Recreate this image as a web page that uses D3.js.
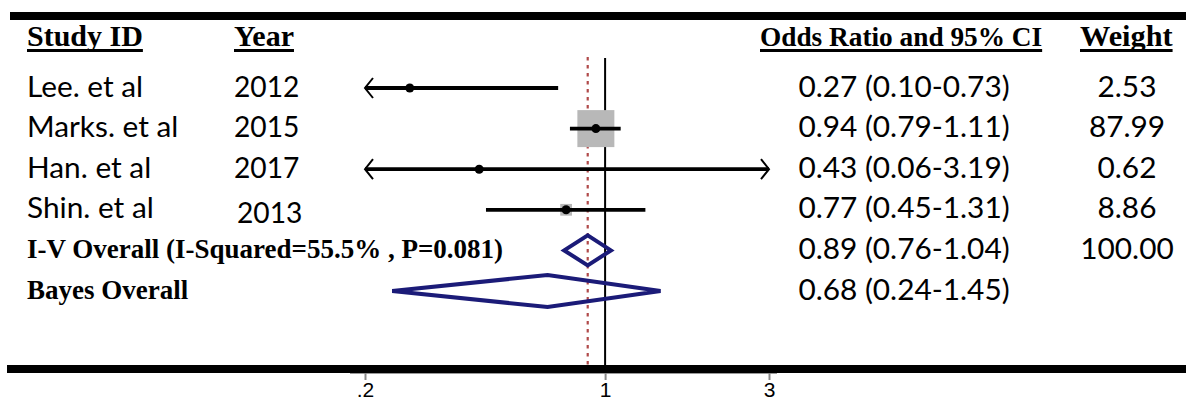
<!DOCTYPE html>
<html>
<head>
<meta charset="utf-8">
<script src="https://cdn.jsdelivr.net/npm/d3@7"></script>
<style>
  html, body { margin: 0; padding: 0; background: #fff; }
  svg { display: block; }
</style>
</head>
<body>
<svg id="chart" width="1186" height="403"></svg>
<script>
// ---------- data ----------
const studies   = ["Lee. et al", "Marks. et al", "Han. et al", "Shin. et al"];
const years     = ["2012", "2015", "2017", "2013"];
const oddsRatio = [0.27, 0.94, 0.43, 0.77];
const ciLow     = [0.10, 0.79, 0.06, 0.45];
const ciHigh    = [0.73, 1.11, 3.19, 1.31];
const weights   = [2.53, 87.99, 0.62, 8.86];

const overallLabels = ["I-V Overall (I-Squared=55.5% , P=0.081)", "Bayes Overall"];
const overallOR     = [0.89, 0.68];
const overallLow    = [0.76, 0.24];
const overallHigh   = [1.04, 1.45];
const overallWeight = ["100.00", ""];

const headers    = ["Study ID", "Year", "Odds Ratio and 95% CI", "Weight"];
const tickValues = [0.2, 1, 3];
const tickLabels = [".2", "1", "3"];

// ---------- layout ----------
const svg = d3.select("#chart");
const x = d3.scaleLog().domain([0.2, 3]).range([365, 769]);
const y = d3.scaleLinear().domain([0, 5]).range([88, 291]);
const fmt = d3.format(".2f");
const ciText = (o, l, h) => `${fmt(o)} (${fmt(l)}-${fmt(h)})`;

const sans = "Lato, 'Noto Sans', sans-serif";
const serif = "'Liberation Serif', 'Times New Roman', serif";
const navy = "#1b1b78";
const rowSize = 29.8;

// top rule
svg.append("line").attr("x1", 10).attr("x2", 1186).attr("y1", 16).attr("y2", 16)
  .attr("stroke", "#000").attr("stroke-width", 8);

// axis (gray) under bottom rule
const axisG = svg.append("g").attr("transform", "translate(0,373)");
const axis = d3.axisBottom(x).tickValues(tickValues)
  .tickFormat((d, i) => tickLabels[i]).tickSize(7).tickSizeOuter(0).tickPadding(2);
axisG.call(axis);
axisG.select(".domain").attr("stroke", "#999").attr("stroke-width", 2)
  .attr("d", `M${x.range()[0] - 15},0H${x.range()[1] + 8}`);
axisG.selectAll(".tick line").attr("stroke", "#888").attr("stroke-width", 2);
axisG.selectAll(".tick text").attr("fill", "#000").attr("font-size", 21)
  .attr("font-family", "'Liberation Sans', Arial, sans-serif");

// bottom rule
svg.append("line").attr("x1", 7).attr("x2", 1186).attr("y1", 369).attr("y2", 369)
  .attr("stroke", "#000").attr("stroke-width", 8);

// reference lines
svg.append("line").attr("x1", x(overallOR[0])).attr("x2", x(overallOR[0]))
  .attr("y1", 57).attr("y2", 365)
  .attr("stroke", "#b04a4a").attr("stroke-width", 2.2).attr("stroke-dasharray", "3.5,4.5");
svg.append("line").attr("x1", x(1)).attr("x2", x(1)).attr("y1", 58).attr("y2", 366)
  .attr("stroke", "#000").attr("stroke-width", 2);

// headers
const headerX = [27, 234, 760, 1080];
const headerSize = [30, 30, 27.3, 30.3];
headers.forEach((h, i) => {
  const t = svg.append("text").attr("x", headerX[i]).attr("y", 46)
    .attr("font-family", serif).attr("font-weight", "bold")
    .attr("font-size", headerSize[i]).attr("fill", "#000").text(h);
  const w = t.node().getComputedTextLength();
  svg.append("line").attr("x1", headerX[i]).attr("x2", headerX[i] + w)
    .attr("y1", 50.5).attr("y2", 50.5).attr("stroke", "#000").attr("stroke-width", 3);
});

// study rows
const rows = studies.map((s, i) => ({
  study: s, year: years[i], or: oddsRatio[i], lo: ciLow[i], hi: ciHigh[i], w: weights[i], i
}));
const [dMin, dMax] = x.domain();
const boxScale = 37 / Math.sqrt(d3.max(weights));

rows.forEach(d => {
  const cy = y(d.i);
  // weight box
  const s = boxScale * Math.sqrt(d.w);
  svg.append("rect").attr("x", x(d.or) - s / 2).attr("y", cy - s / 2)
    .attr("width", s).attr("height", s).attr("fill", "#b8b8b8");
  // CI line (clipped to axis domain)
  const lo = Math.max(d.lo, dMin), hi = Math.min(d.hi, dMax);
  svg.append("line").attr("x1", x(lo)).attr("x2", x(hi)).attr("y1", cy).attr("y2", cy)
    .attr("stroke", "#000").attr("stroke-width", 3.8);
  if (d.lo < dMin) {
    const ax = x(dMin);
    svg.append("path").attr("d", `M${ax + 8},${cy - 10}L${ax},${cy}L${ax + 8},${cy + 10}`)
      .attr("fill", "none").attr("stroke", "#000").attr("stroke-width", 2);
  }
  if (d.hi > dMax) {
    const ax = x(dMax);
    svg.append("path").attr("d", `M${ax - 8},${cy - 10}L${ax},${cy}L${ax - 8},${cy + 10}`)
      .attr("fill", "none").attr("stroke", "#000").attr("stroke-width", 2);
  }
  svg.append("circle").attr("cx", x(d.or)).attr("cy", cy).attr("r", 4.5).attr("fill", "#000");

  // texts
  svg.append("text").attr("x", 27).attr("y", cy + 8.5).attr("font-family", sans)
    .attr("font-size", rowSize).attr("fill", "#000").text(d.study);
  const yearShift = d.study.startsWith("Shin") ? [3, 5] : [0, 0];
  svg.append("text").attr("x", 234 + yearShift[0]).attr("y", cy + 8.5 + yearShift[1])
    .attr("font-family", sans).attr("font-size", 28.2).attr("fill", "#000").text(d.year);
  svg.append("text").attr("x", 904).attr("y", cy + 8.5).attr("text-anchor", "middle")
    .attr("font-family", sans).attr("font-size", rowSize).attr("fill", "#000")
    .text(ciText(d.or, d.lo, d.hi));
  svg.append("text").attr("x", 1127).attr("y", cy + 8.5).attr("text-anchor", "middle")
    .attr("font-family", sans).attr("font-size", rowSize).attr("fill", "#000").text(fmt(d.w));
});

// overall rows
const diamondHalf = [15, 16];
overallLabels.forEach((lab, j) => {
  const cy = y(studies.length + j);
  const h = diamondHalf[j];
  const pts = [[x(overallLow[j]), cy], [x(overallOR[j]), cy - h],
               [x(overallHigh[j]), cy], [x(overallOR[j]), cy + h]];
  svg.append("path").attr("d", d3.line()(pts) + "Z")
    .attr("fill", "none").attr("stroke", navy).attr("stroke-width", 4)
    .attr("stroke-linejoin", "miter");
  svg.append("text").attr("x", 27).attr("y", cy + 8).attr("font-family", serif)
    .attr("font-weight", "bold").attr("font-size", 27).attr("fill", "#000").text(lab);
  svg.append("text").attr("x", 904).attr("y", cy + 8.5).attr("text-anchor", "middle")
    .attr("font-family", sans).attr("font-size", rowSize).attr("fill", "#000")
    .text(ciText(overallOR[j], overallLow[j], overallHigh[j]));
  if (overallWeight[j]) {
    svg.append("text").attr("x", 1127).attr("y", cy + 8.5).attr("text-anchor", "middle")
      .attr("font-family", sans).attr("font-size", rowSize).attr("fill", "#000").text(overallWeight[j]);
  }
});
</script>
</body>
</html>
